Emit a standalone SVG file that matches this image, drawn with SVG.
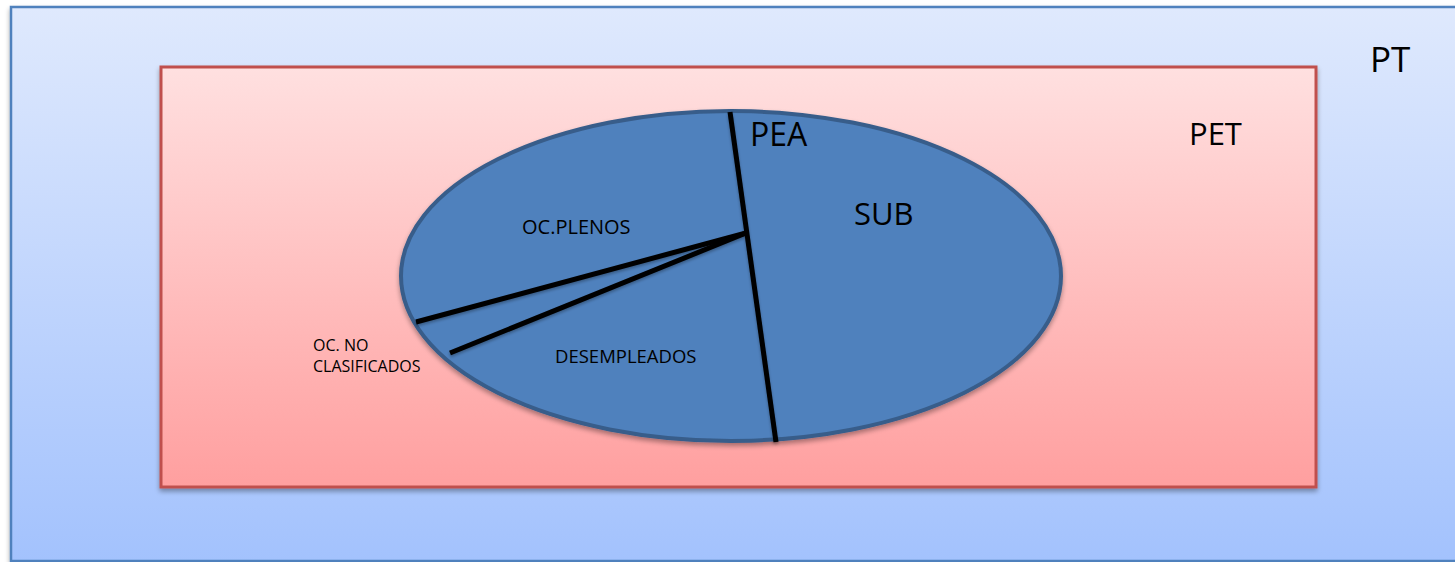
<svg xmlns="http://www.w3.org/2000/svg" width="1455" height="562" viewBox="0 0 1455 562">
  <defs>
    <linearGradient id="gBlue" x1="0" y1="0" x2="0" y2="1">
      <stop offset="0" stop-color="#dfe9fd"/>
      <stop offset="1" stop-color="#a3c2fd"/>
    </linearGradient>
    <linearGradient id="gRed" x1="0" y1="0" x2="0" y2="1">
      <stop offset="0" stop-color="#ffe0e0"/>
      <stop offset="1" stop-color="#ff9f9f"/>
    </linearGradient>
    <filter id="shadow" x="-10%" y="-10%" width="120%" height="130%">
      <feGaussianBlur in="SourceAlpha" stdDeviation="2.5"/>
      <feOffset dx="0" dy="3" result="b"/>
      <feComponentTransfer><feFuncA type="linear" slope="0.35"/></feComponentTransfer>
      <feMerge><feMergeNode/><feMergeNode in="SourceGraphic"/></feMerge>
    </filter>
    <filter id="lshadow" x="-10%" y="-10%" width="120%" height="130%">
      <feGaussianBlur in="SourceAlpha" stdDeviation="1.5"/>
      <feOffset dx="0" dy="2" result="b"/>
      <feComponentTransfer><feFuncA type="linear" slope="0.3"/></feComponentTransfer>
      <feMerge><feMergeNode/><feMergeNode in="SourceGraphic"/></feMerge>
    </filter>
  </defs>
  <style>
    text { font-family: "Open Sans", "Liberation Sans", sans-serif; fill: #000000; }
    .big { font-size: 32px; }
    .small { font-size: 18.5px; }
    .tiny { font-size: 16px; }
    .div { stroke: #000000; stroke-width: 5; stroke-linecap: butt; fill: none; }
  </style>
  <rect width="1455" height="562" fill="#ffffff"/>
  <g id="PT">
    <rect x="11" y="7" width="1460" height="554" fill="url(#gBlue)" stroke="#4f81bd" stroke-width="2.5" filter="url(#shadow)"/>
    <text class="big" x="1370" y="72" style="font-size:35px">PT</text>
  </g>
  <g id="PET">
    <rect x="161" y="67" width="1155" height="420" fill="url(#gRed)" stroke="#c0504d" stroke-width="3" filter="url(#shadow)"/>
    <text class="big" x="1189" y="145" style="font-size:31px">PET</text>
  </g>
  <g id="PEA">
    <ellipse cx="731" cy="276" rx="330" ry="165" fill="#4f81bd" stroke="#385d8a" stroke-width="4" filter="url(#shadow)"/>
    <text class="big" x="750" y="146">PEA</text>
  </g>
  <g id="connectors" filter="url(#lshadow)">
    <line class="div" x1="730" y1="112" x2="776" y2="442"/>
    <line class="div" x1="746" y1="233" x2="416" y2="322"/>
    <line class="div" x1="746" y1="233" x2="450" y2="353"/>
  </g>
  <g id="SUB">
    <text class="big" x="854" y="225" style="font-size:31px">SUB</text>
  </g>
  <g id="OC_PLENOS">
    <text class="small" x="522" y="234" style="font-size:20px">OC.PLENOS</text>
  </g>
  <g id="DESEMPLEADOS">
    <text class="small" x="555" y="363">DESEMPLEADOS</text>
  </g>
  <g id="OC_NO_CLASIFICADOS">
    <text class="tiny" x="313" y="351">OC. NO</text>
    <text class="tiny" x="313" y="372">CLASIFICADOS</text>
  </g>
</svg>
